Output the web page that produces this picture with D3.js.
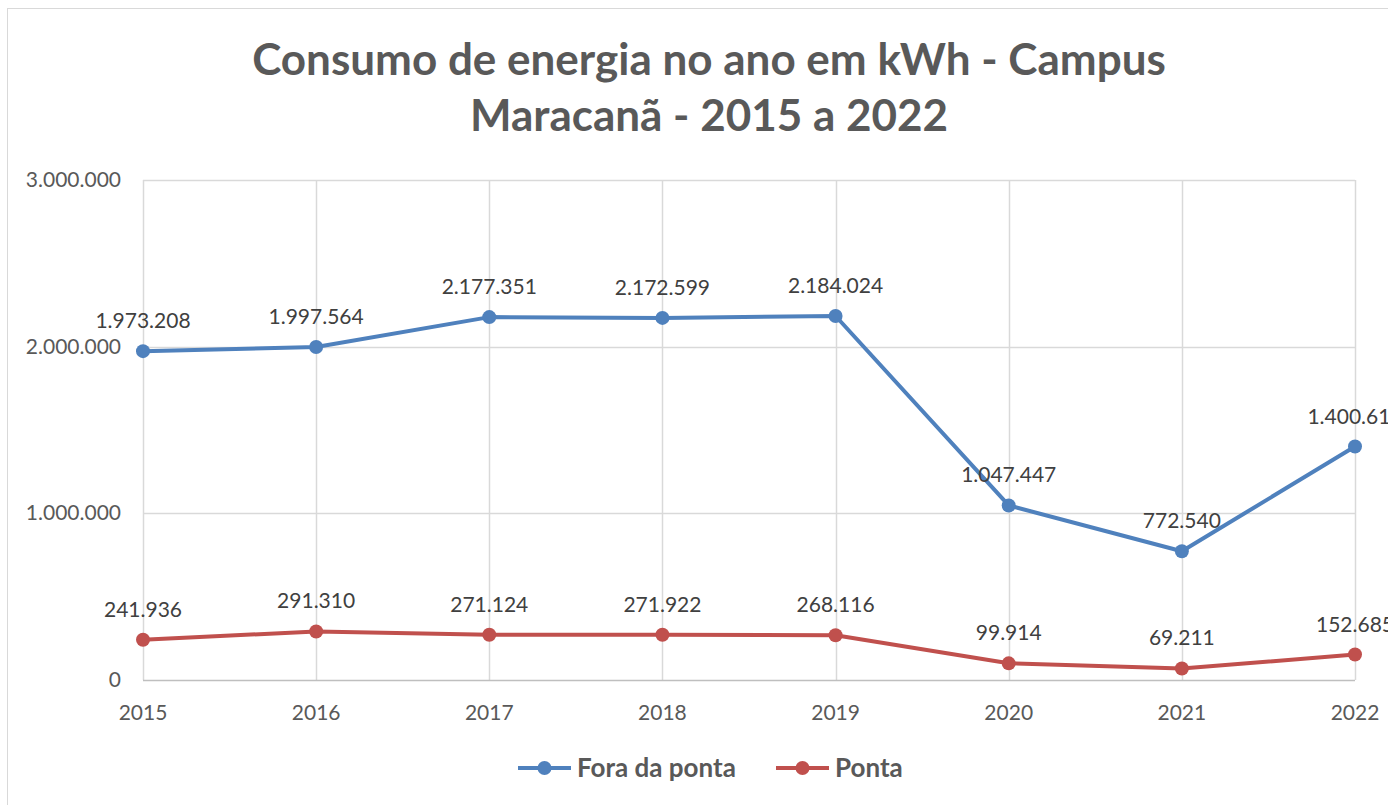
<!DOCTYPE html>
<html>
<head>
<meta charset="utf-8">
<script src="https://cdn.jsdelivr.net/npm/d3@7"></script>
<style>
  body { margin: 0; background: #fff; overflow: hidden; }
  svg { display: block; font-family: Lato, "Open Sans", sans-serif; }
</style>
</head>
<body>
<div class="svg-container"></div>
<script>
// data
const years = ['2015', '2016', '2017', '2018', '2019', '2020', '2021', '2022'];
const foraDaPonta = [1973208, 1997564, 2177351, 2172599, 2184024, 1047447, 772540, 1400610];
const ponta = [241936, 291310, 271124, 271922, 268116, 99914, 69211, 152685];
const yTicks = [0, 1000000, 2000000, 3000000];
const seriesNames = ['Fora da ponta', 'Ponta'];
const colors = ['#4f81bd', '#c0504d'];

const width = 1388;
const height = 805;
const plot = { left: 143, right: 1355, top: 180, bottom: 680 };

const svg = d3.select('.svg-container')
  .append('svg')
  .attr('width', width)
  .attr('height', height);

// chart border
svg.append('rect')
  .attr('x', 7.5).attr('y', 8.5)
  .attr('width', 1400).attr('height', 820)
  .attr('fill', 'none')
  .attr('stroke', '#d9d9d9')
  .attr('stroke-width', 1);

// number format pt-BR style: 1.973.208
const fmt = d3.formatLocale({ decimal: ',', thousands: '.', grouping: [3], currency: ['R$', ''] }).format(',d');

const x = d3.scalePoint().domain(years).range([plot.left, plot.right]);
const y = d3.scaleLinear().domain([0, 3000000]).range([plot.bottom, plot.top]);

// title
const title = svg.append('text')
  .attr('text-anchor', 'middle')
  .attr('fill', '#595959')
  .attr('font-weight', 'bold')
  .attr('font-size', 44);
title.append('tspan').attr('x', 709).attr('y', 75).text('Consumo de energia no ano em kWh - Campus');
title.append('tspan').attr('x', 709).attr('y', 131).text('Maracanã - 2015 a 2022');

// gridlines
svg.append('g')
  .selectAll('line')
  .data(yTicks.filter(d => d > 0))
  .join('line')
  .attr('x1', plot.left).attr('x2', plot.right)
  .attr('y1', d => Math.round(y(d)) + 0.5).attr('y2', d => Math.round(y(d)) + 0.5)
  .attr('stroke', '#d9d9d9').attr('stroke-width', 1.5);

svg.append('g')
  .selectAll('line')
  .data(years)
  .join('line')
  .attr('x1', d => Math.round(x(d)) + 0.5).attr('x2', d => Math.round(x(d)) + 0.5)
  .attr('y1', plot.top).attr('y2', plot.bottom)
  .attr('stroke', '#d9d9d9').attr('stroke-width', 1.5);

// x axis line
svg.append('line')
  .attr('x1', plot.left).attr('x2', plot.right)
  .attr('y1', plot.bottom + 0.5).attr('y2', plot.bottom + 0.5)
  .attr('stroke', '#bfbfbf').attr('stroke-width', 1.5);

// y tick labels
svg.append('g')
  .selectAll('text')
  .data(yTicks)
  .join('text')
  .attr('x', 121)
  .attr('y', d => y(d) + 7)
  .attr('text-anchor', 'end')
  .attr('font-size', 21)
  .attr('fill', '#595959')
  .text(d => fmt(d));

// x tick labels
svg.append('g')
  .selectAll('text')
  .data(years)
  .join('text')
  .attr('x', d => x(d))
  .attr('y', 720)
  .attr('text-anchor', 'middle')
  .attr('font-size', 21)
  .attr('fill', '#595959')
  .text(d => d);

// series
const line = d3.line().x((d, i) => x(years[i])).y(d => y(d));

[foraDaPonta, ponta].forEach((values, s) => {
  const g = svg.append('g');
  g.append('path')
    .datum(values)
    .attr('d', line)
    .attr('fill', 'none')
    .attr('stroke', colors[s])
    .attr('stroke-width', 4)
    .attr('stroke-linejoin', 'round');

  g.selectAll('circle')
    .data(values)
    .join('circle')
    .attr('cx', (d, i) => x(years[i]))
    .attr('cy', d => y(d))
    .attr('r', 7)
    .attr('fill', colors[s]);

  g.selectAll('text')
    .data(values)
    .join('text')
    .attr('x', (d, i) => x(years[i]))
    .attr('y', d => y(d) - 23)
    .attr('text-anchor', 'middle')
    .attr('font-size', 21)
    .attr('fill', '#404040')
    .text(d => fmt(d));
});

// legend
const legend = svg.append('g');
const legendItems = [{ x: 518, name: seriesNames[0], color: colors[0] }, { x: 776, name: seriesNames[1], color: colors[1] }];
legendItems.forEach(item => {
  legend.append('line')
    .attr('x1', item.x).attr('x2', item.x + 53)
    .attr('y1', 768).attr('y2', 768)
    .attr('stroke', item.color).attr('stroke-width', 4);
  legend.append('circle')
    .attr('cx', item.x + 26.5).attr('cy', 768).attr('r', 7)
    .attr('fill', item.color);
  legend.append('text')
    .attr('x', item.x + 59).attr('y', 777)
    .attr('font-size', 26)
    .attr('font-weight', 'bold')
    .attr('fill', '#595959')
    .text(item.name);
});
</script>
</body>
</html>
